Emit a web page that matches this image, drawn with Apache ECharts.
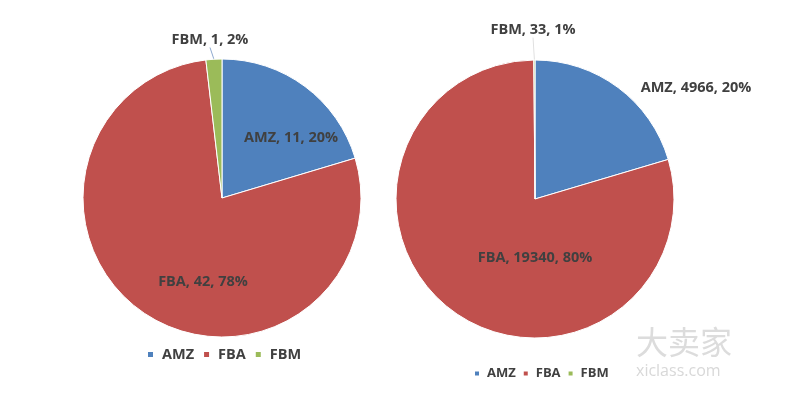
<!DOCTYPE html>
<html>
<head>
<meta charset="utf-8">
<script src="https://cdn.jsdelivr.net/npm/echarts@6/dist/echarts.min.js"></script>
<style>
    html, body { margin: 0; padding: 0; background: #fff; }
    #main { width: 800px; height: 398px; }
</style>
</head>
<body>
<div id="main"></div>
<script>
// 数据
var categories = ['AMZ', 'FBA', 'FBM'];
var leftValues = [11, 42, 1];
var leftPct = [20, 78, 2];
var rightValues = [4966, 19340, 33];
var rightPct = [20, 80, 1];
var colors = ['#4f81bd', '#c0504d', '#9bbb59'];

(function() {
    var myChart = echarts.init(document.querySelector('#main'));

    function makeData(values, pct, lineColor) {
        return categories.map(function(name, i) {
            var item = { name: name, value: values[i], pct: pct[i] };
            // 只有FBM有引导线
            if (name === 'FBM') {
                item.labelLine = { show: true, lineStyle: { color: lineColor, width: 1 } };
            }
            return item;
        });
    }

    function labelStyle(size) {
        return {
            color: '#404040',
            fontWeight: 'bold',
            fontSize: size,
            fontFamily: 'Open Sans',
            formatter: function(p) {
                return p.name + ', ' + p.value + ', ' + p.data.pct + '%';
            }
        };
    }

    // 标签位置
    var leftLabelPos = [[291, 138], [203, 282], [210, 40]];
    var rightLabelPos = [[696, 88], [535, 258], [533, 30]];

    var option = {
        color: colors,
        animation: false,
        legend: [{
            left: 141,
            top: 342,
            itemWidth: 7,
            itemHeight: 7,
            itemGap: 8,
            icon: 'rect',
            textStyle: { color: '#404040', fontSize: 14.5, fontWeight: 'bold', fontFamily: 'Open Sans', padding: [0, 0, 0, 3] },
            data: categories
        }, {
            left: 468,
            top: 362,
            itemWidth: 6,
            itemHeight: 6,
            itemGap: 6,
            icon: 'rect',
            textStyle: { color: '#404040', fontSize: 13, fontWeight: 'bold', fontFamily: 'Open Sans', padding: [0, 0, 0, 2] },
            data: categories
        }],
        graphic: [{
            type: 'text',
            left: 636,
            top: 326,
            style: { text: '大卖家', fill: '#dcdcdc', fontSize: 32, fontFamily: 'Noto Sans CJK SC' }
        }, {
            type: 'text',
            left: 636,
            top: 363,
            style: { text: 'xiclass.com', fill: '#d8d8d8', fontSize: 16, fontFamily: 'Open Sans' }
        }],
        series: [{
            type: 'pie',
            center: [222, 198],
            radius: 139,
            startAngle: 90,
            itemStyle: { borderColor: '#fff', borderWidth: 1 },
            label: labelStyle(14.5),
            labelLine: { show: false, length: 8, length2: 0 },
            labelLayout: function(p) {
                var pos = leftLabelPos[p.dataIndex];
                return { x: pos[0], y: pos[1], align: 'center', verticalAlign: 'middle' };
            },
            data: makeData(leftValues, leftPct, '#8ea9cf')
        }, {
            type: 'pie',
            center: [535, 199],
            radius: 139,
            startAngle: 90,
            itemStyle: { borderColor: '#fff', borderWidth: 1 },
            label: labelStyle(14.5),
            labelLine: { show: false, length: 8, length2: 0 },
            labelLayout: function(p) {
                var pos = rightLabelPos[p.dataIndex];
                return { x: pos[0], y: pos[1], align: 'center', verticalAlign: 'middle' };
            },
            data: makeData(rightValues, rightPct, '#e0e0e0')
        }]
    };

    myChart.setOption(option);
})();
</script>
</body>
</html>
